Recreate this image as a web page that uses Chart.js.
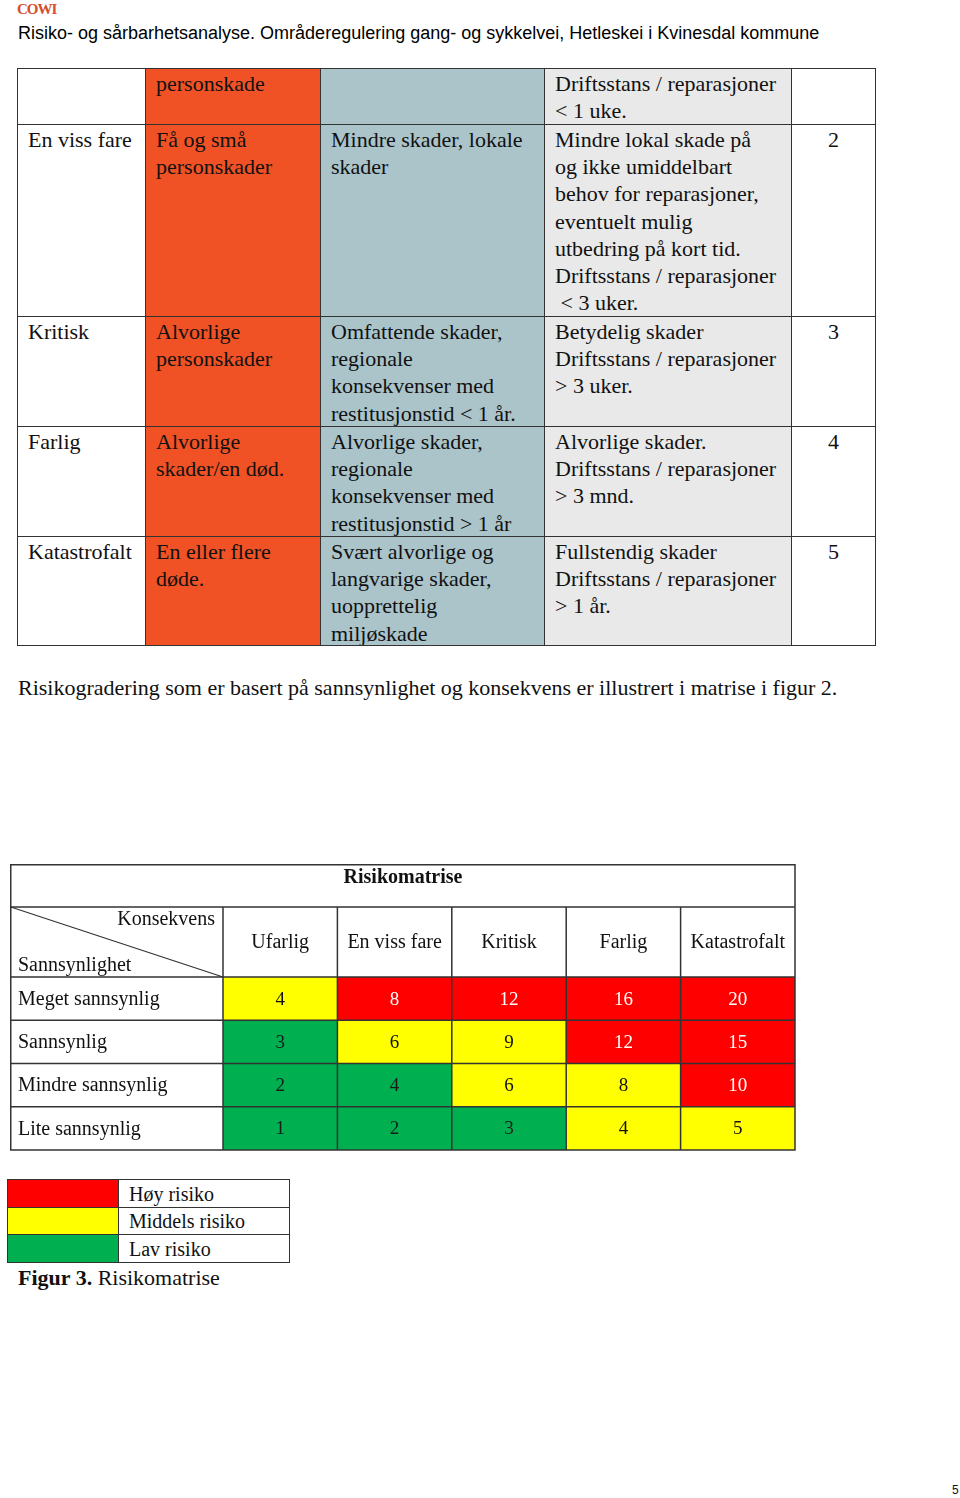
<!DOCTYPE html>
<html>
<head>
<meta charset="utf-8">
<script src="https://cdn.jsdelivr.net/npm/chart.js@4.4.1/dist/chart.umd.min.js"></script>
<style>
  html, body { margin:0; padding:0; background:#fff; }
  body { width:960px; height:1498px; position:relative; overflow:hidden; font-family:"Liberation Serif","Times New Roman",serif; color:#111; }
  .abs { position:absolute; }
  #logo { left:17px; top:1px; font-family:"Liberation Serif",serif; font-weight:bold; font-size:15px; color:#d4502a; letter-spacing:-1px; line-height:17px; }
  #hdr { left:18px; top:22px; font-family:"Liberation Sans",Arial,sans-serif; font-size:18px; line-height:22px; color:#000; white-space:nowrap; }
  #tbl { left:17px; top:68px; display:grid; grid-template-columns:128px 175px 224px 247px 84px; grid-template-rows:56px 192px 110px 110px 109px; border-left:1.5px solid #333; border-top:1.5px solid #333; box-sizing:border-box; }
  #tbl > div { border-right:1.5px solid #333; border-bottom:1.5px solid #333; box-sizing:border-box; font-size:22px; line-height:27.2px; padding:1px 0 0 10px; white-space:nowrap; overflow:hidden; }
  #tbl > .o { background:#f05225; }
  #tbl > .b { background:#abc4ca; }
  #tbl > .g { background:#e9e9e9; }
  #tbl > .n { text-align:center; padding-left:0; }
  #para { left:18px; top:675px; font-size:22px; line-height:26px; white-space:nowrap; }
  #mwrap { left:10px; top:864px; width:786px; height:288px; }
  #legend { left:7px; top:1179px; border-collapse:collapse; }
  #legend td { border:1.3px solid #333; height:26.5px; padding:0; font-size:20px; line-height:26px; }
  #legend td.c { width:110px; }
  #legend td.t { width:160px; padding-left:10px; vertical-align:bottom; }
  #fig { left:18px; top:1265px; font-size:22px; line-height:26px; white-space:nowrap; }
  #pg { left:952px; top:1483px; font-family:"Liberation Sans",Arial,sans-serif; font-size:12px; }
</style>
</head>
<body>
<div id="logo" class="abs">COWI</div>
<div id="hdr" class="abs">Risiko- og sårbarhetsanalyse. Områderegulering gang- og sykkelvei, Hetleskei i Kvinesdal kommune</div>

<div id="tbl" class="abs">
  <div></div>
  <div class="o">personskade</div>
  <div class="b"></div>
  <div class="g">Driftsstans / reparasjoner<br>&lt; 1 uke.</div>
  <div class="n"></div>

  <div>En viss fare</div>
  <div class="o">Få og små<br>personskader</div>
  <div class="b">Mindre skader, lokale<br>skader</div>
  <div class="g">Mindre lokal skade på<br>og ikke umiddelbart<br>behov for reparasjoner,<br>eventuelt mulig<br>utbedring på kort tid.<br>Driftsstans / reparasjoner<br>&nbsp;&lt; 3 uker.</div>
  <div class="n">2</div>

  <div>Kritisk</div>
  <div class="o">Alvorlige<br>personskader</div>
  <div class="b">Omfattende skader,<br>regionale<br>konsekvenser med<br>restitusjonstid &lt; 1 år.</div>
  <div class="g">Betydelig skader<br>Driftsstans / reparasjoner<br>&gt; 3 uker.</div>
  <div class="n">3</div>

  <div>Farlig</div>
  <div class="o">Alvorlige<br>skader/en død.</div>
  <div class="b">Alvorlige skader,<br>regionale<br>konsekvenser med<br>restitusjonstid &gt; 1 år</div>
  <div class="g">Alvorlige skader.<br>Driftsstans / reparasjoner<br>&gt; 3 mnd.</div>
  <div class="n">4</div>

  <div>Katastrofalt</div>
  <div class="o">En eller flere<br>døde.</div>
  <div class="b">Svært alvorlige og<br>langvarige skader,<br>uopprettelig<br>miljøskade</div>
  <div class="g">Fullstendig skader<br>Driftsstans / reparasjoner<br>&gt; 1 år.</div>
  <div class="n">5</div>
</div>

<div id="para" class="abs">Risikogradering som er basert på sannsynlighet og konsekvens er illustrert i matrise i figur 2.</div>

<div id="mwrap" class="abs"><canvas id="matrix" width="786" height="288"></canvas></div>

<table id="legend" class="abs">
  <tr><td class="c" style="background:#ff0000"></td><td class="t">Høy risiko</td></tr>
  <tr><td class="c" style="background:#ffff00"></td><td class="t">Middels risiko</td></tr>
  <tr><td class="c" style="background:#00b050"></td><td class="t">Lav risiko</td></tr>
</table>
<div id="fig" class="abs"><b>Figur 3.</b> Risikomatrise</div>
<div id="pg" class="abs">5</div>

<script>
// ---- Data ----
const consequences = ["Ufarlig", "En viss fare", "Kritisk", "Farlig", "Katastrofalt"];
const probabilities = ["Meget sannsynlig", "Sannsynlig", "Mindre sannsynlig", "Lite sannsynlig"];
const probabilityLevel = [4, 3, 2, 1];
const riskMeget     = [4, 8, 12, 16, 20];
const riskSannsynlig = [3, 6, 9, 12, 15];
const riskMindre    = [2, 4, 6, 8, 10];
const riskLite      = [1, 2, 3, 4, 5];
const levelMeget     = ["M", "H", "H", "H", "H"];
const levelSannsynlig = ["L", "M", "M", "H", "H"];
const levelMindre    = ["L", "L", "M", "M", "H"];
const levelLite      = ["L", "L", "L", "M", "M"];

const riskRows = [riskMeget, riskSannsynlig, riskMindre, riskLite];
const levelRows = [levelMeget, levelSannsynlig, levelMindre, levelLite];
const fill = { H: "#ff0000", M: "#ffff00", L: "#00b050" };
const textCol = { H: "#ffffff", M: "#111111", L: "#1a1a1a" };

const datasets = probabilities.map((p, i) => ({
  label: p,
  data: consequences.map(() => [probabilityLevel[i] - 1, probabilityLevel[i]]),
  backgroundColor: levelRows[i].map(l => fill[l]),
  borderWidth: 0,
  barPercentage: 1,
  categoryPercentage: 1
}));

const LINE = "#333";
const matrixPlugin = {
  id: "matrixDecor",
  afterDatasetsDraw(chart) {
    const ctx = chart.ctx;
    const xs = chart.scales.x, ys = chart.scales.y;
    const area = chart.chartArea;
    const top = 0.75, left = 0.75, right = area.right, bottom = area.bottom;
    const headTop = 43;
    ctx.save();
    ctx.textAlign = "center";
    ctx.textBaseline = "middle";
    ctx.font = '19px "Liberation Serif", serif';
    chart.data.datasets.forEach((ds, i) => {
      const meta = chart.getDatasetMeta(i);
      meta.data.forEach((bar, j) => {
        const cy = (bar.y + bar.base) / 2;
        ctx.fillStyle = textCol[levelRows[i][j]];
        ctx.fillText(String(riskRows[i][j]), bar.x, cy + 1);
      });
    });
    ctx.textAlign = "left";
    ctx.fillStyle = "#111";
    ctx.font = '20px "Liberation Serif", serif';
    probabilities.forEach((p, i) => {
      const cy = ys.getPixelForValue(probabilityLevel[i] - 0.5);
      ctx.fillText(p, 8, cy + 1);
    });
    ctx.textAlign = "center";
    consequences.forEach((c, j) => {
      ctx.fillText(c, xs.getPixelForValue(j), 79);
    });
    ctx.textAlign = "right";
    ctx.fillText("Konsekvens", 205, 56);
    ctx.textAlign = "left";
    ctx.fillText("Sannsynlighet", 8, 102);
    ctx.textAlign = "center";
    ctx.font = 'bold 20px "Liberation Serif", serif';
    ctx.fillText("Risikomatrise", 393, 14);

    ctx.strokeStyle = LINE;
    ctx.lineWidth = 1.5;
    ctx.beginPath();
    ctx.rect(left, top, right - left, bottom - top);
    ctx.moveTo(left, headTop); ctx.lineTo(right, headTop);
    for (let v = 0; v <= 4; v++) {
      const y = ys.getPixelForValue(v);
      ctx.moveTo(left, y); ctx.lineTo(right, y);
    }
    ctx.moveTo(area.left, headTop); ctx.lineTo(area.left, bottom);
    for (let j = 0; j < consequences.length - 1; j++) {
      const x = (xs.getPixelForValue(j) + xs.getPixelForValue(j + 1)) / 2;
      ctx.moveTo(x, headTop); ctx.lineTo(x, bottom);
    }
    ctx.stroke();
    ctx.beginPath();
    ctx.lineWidth = 1.2;
    ctx.moveTo(left, headTop); ctx.lineTo(area.left, area.top);
    ctx.stroke();
    ctx.restore();
  }
};

new Chart(document.getElementById("matrix"), {
  type: "bar",
  data: { labels: consequences, datasets },
  options: {
    responsive: false,
    animation: false,
    layout: { padding: { left: 213, top: 113, right: 1, bottom: 2 } },
    plugins: { legend: { display: false }, tooltip: { enabled: false } },
    scales: {
      x: { type: "category", display: false, stacked: true, offset: true },
      y: { type: "linear", display: false, min: 0, max: 4, stacked: false }
    }
  },
  plugins: [matrixPlugin]
});
</script>
</body>
</html>
